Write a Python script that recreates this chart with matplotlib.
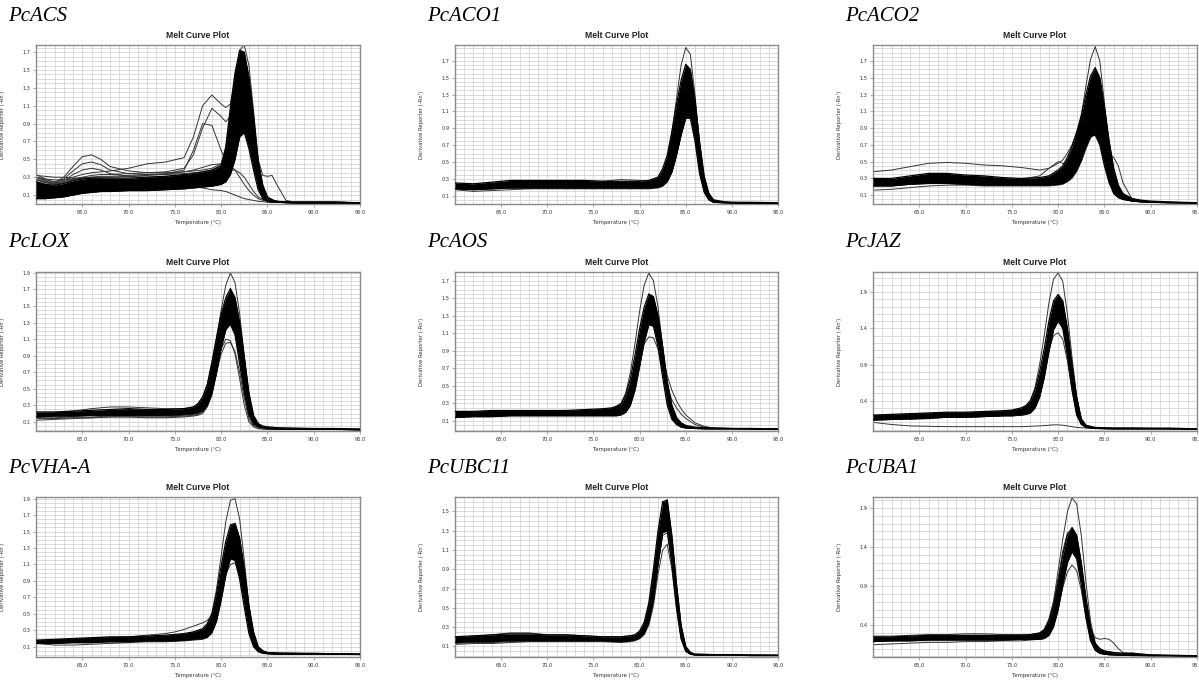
import matplotlib
matplotlib.use("Agg")
import matplotlib.pyplot as plt
import numpy as np

# ---------------- data ----------------
GENES = ["PcACS", "PcACO1", "PcACO2", "PcLOX", "PcAOS", "PcJAZ",
         "PcVHA-A", "PcUBC11", "PcUBA1"]
X_TICKS = [65, 70, 75, 80, 85, 90, 95]

# PcACS
ACS_T = [60, 61, 62, 63, 64, 65, 66, 67, 68, 70, 72, 74, 76, 77, 78, 79, 80,
         80.5, 81, 81.5, 82, 82.5, 83, 83.5, 84, 84.5, 85, 85.5, 86, 87, 88, 90, 92, 95]
ACS_HI = [0.25, 0.22, 0.21, 0.23, 0.26, 0.28, 0.29, 0.29, 0.29, 0.29, 0.3, 0.31, 0.33,
          0.34, 0.36, 0.38, 0.43,
          0.64, 1.08, 1.47, 1.72, 1.7, 1.42, 0.98, 0.48, 0.21, 0.08, 0.05, 0.03,
          0.025, 0.02, 0.02, 0.02, 0.015]
ACS_LO = [0.06, 0.06, 0.07, 0.08, 0.1, 0.12, 0.13, 0.14, 0.14, 0.15, 0.15, 0.16, 0.17,
          0.18, 0.19, 0.2, 0.22,
          0.25, 0.33, 0.5, 0.75, 0.8, 0.62, 0.38, 0.16, 0.06, 0.03, 0.02, 0.02,
          0.015, 0.01, 0.01, 0.01, 0.01]
ACS_LINES = [
    [0.33, 0.28, 0.24, 0.3, 0.42, 0.53, 0.55, 0.5, 0.42, 0.37, 0.35, 0.35, 0.36, 0.37, 0.38, 0.4, 0.45,
     0.62, 1.0, 1.42, 1.68, 1.65, 1.35, 0.9, 0.42, 0.17, 0.07, 0.04, 0.03, 0.02, 0.02, 0.02, 0.02, 0.015],
    [0.3, 0.26, 0.23, 0.28, 0.37, 0.45, 0.47, 0.44, 0.38, 0.34, 0.33, 0.33, 0.34, 0.35, 0.36, 0.38, 0.43,
     0.6, 0.98, 1.4, 1.65, 1.62, 1.32, 0.88, 0.4, 0.16, 0.06, 0.04, 0.03, 0.02, 0.02, 0.02, 0.02, 0.015],
    [0.28, 0.24, 0.22, 0.26, 0.33, 0.38, 0.4, 0.38, 0.34, 0.31, 0.3, 0.31, 0.32, 0.33, 0.34, 0.36, 0.4,
     0.58, 0.95, 1.38, 1.62, 1.6, 1.3, 0.85, 0.38, 0.15, 0.06, 0.04, 0.03, 0.02, 0.02, 0.02, 0.02, 0.015],
    [0.3, 0.27, 0.25, 0.27, 0.3, 0.33, 0.35, 0.36, 0.37, 0.4, 0.45, 0.47, 0.52, 0.75, 1.1, 1.22, 1.12,
     1.08, 1.12, 1.38, 1.6, 1.58, 1.28, 0.85, 0.4, 0.15, 0.06, 0.04, 0.03, 0.02, 0.02, 0.02, 0.02, 0.015],
    [0.28, 0.25, 0.23, 0.25, 0.28, 0.3, 0.32, 0.33, 0.33, 0.34, 0.35, 0.36, 0.4, 0.55, 0.85, 1.07, 0.98,
     0.92, 0.98, 1.3, 1.55, 1.52, 1.25, 0.82, 0.38, 0.15, 0.06, 0.04, 0.03, 0.02, 0.02, 0.02, 0.02, 0.015],
    [0.27, 0.24, 0.22, 0.24, 0.27, 0.29, 0.3, 0.31, 0.31, 0.32, 0.33, 0.34, 0.38, 0.6, 0.9, 0.88, 0.6,
     0.48, 0.6, 1.0, 1.3, 1.35, 1.1, 0.7, 0.32, 0.12, 0.05, 0.03, 0.02, 0.02, 0.02, 0.02, 0.02, 0.015],
    [0.3, 0.28, 0.27, 0.27, 0.28, 0.29, 0.3, 0.3, 0.3, 0.31, 0.32, 0.33, 0.36, 0.38, 0.41, 0.44, 0.45,
     0.45, 0.43, 0.38, 0.3, 0.22, 0.15, 0.1, 0.06, 0.04, 0.03, 0.02, 0.02, 0.015, 0.015, 0.015, 0.015, 0.015],
    [0.25, 0.22, 0.2, 0.2, 0.21, 0.22, 0.22, 0.23, 0.23, 0.24, 0.25, 0.26, 0.28, 0.3, 0.32, 0.34, 0.35,
     0.37, 0.38, 0.38, 0.35, 0.3, 0.22, 0.14, 0.08, 0.05, 0.03, 0.02, 0.02, 0.015, 0.015, 0.015, 0.015, 0.015],
    [0.32, 0.31, 0.3, 0.3, 0.29, 0.29, 0.28, 0.28, 0.27, 0.26, 0.24, 0.22, 0.2, 0.19, 0.18, 0.16, 0.15,
     0.14, 0.12, 0.1, 0.08, 0.06, 0.05, 0.04, 0.03, 0.025, 0.02, 0.02, 0.02, 0.015, 0.015, 0.015, 0.015, 0.015],
    [0.12, 0.11, 0.12, 0.13, 0.15, 0.17, 0.18, 0.19, 0.19, 0.2, 0.21, 0.22, 0.24, 0.25, 0.27, 0.29, 0.33,
     0.5, 0.9, 1.3, 1.55, 1.55, 1.3, 0.9, 0.5, 0.32, 0.31, 0.32, 0.22, 0.04, 0.02, 0.02, 0.02, 0.015],
    [0.2, 0.18, 0.18, 0.19, 0.21, 0.23, 0.24, 0.24, 0.24, 0.25, 0.26, 0.27, 0.29, 0.3, 0.32, 0.34, 0.38,
     0.55, 0.95, 1.4, 1.72, 1.78, 1.55, 1.05, 0.5, 0.2, 0.08, 0.04, 0.03, 0.02, 0.02, 0.02, 0.02, 0.015],
]

# PcACO1
ACO1_T = [60, 62, 64, 66, 68, 70, 72, 74, 76, 78, 80, 81, 82, 82.5, 83, 83.5, 84, 84.5,
          85, 85.5, 86, 86.5, 87, 87.5, 88, 89, 90, 92, 95]
ACO1_HI = [0.25, 0.24, 0.26, 0.28, 0.28, 0.28, 0.28, 0.28, 0.27, 0.27, 0.27, 0.28, 0.32,
           0.42, 0.58, 0.86, 1.18, 1.47, 1.66, 1.6, 1.24, 0.74, 0.33, 0.13, 0.05,
           0.03, 0.02, 0.02, 0.015]
ACO1_LO = [0.18, 0.17, 0.18, 0.19, 0.19, 0.19, 0.19, 0.19, 0.19, 0.19, 0.19, 0.19, 0.2,
           0.22, 0.27, 0.38, 0.58, 0.82, 1.02, 1.02, 0.75, 0.36, 0.14, 0.05, 0.02,
           0.015, 0.01, 0.01, 0.005]
ACO1_LINES = [
    [0.22, 0.21, 0.23, 0.24, 0.24, 0.24, 0.24, 0.24, 0.23, 0.23, 0.23, 0.24, 0.27,
     0.35, 0.52, 0.85, 1.25, 1.65, 1.86, 1.78, 1.3, 0.72, 0.28, 0.1, 0.04, 0.02, 0.02, 0.015, 0.01],
    [0.17, 0.15, 0.16, 0.17, 0.18, 0.18, 0.18, 0.18, 0.18, 0.18, 0.18, 0.18, 0.19,
     0.21, 0.26, 0.38, 0.58, 0.85, 1.08, 1.1, 0.8, 0.4, 0.15, 0.05, 0.02, 0.015, 0.01, 0.01, 0.005],
    [0.22, 0.22, 0.24, 0.26, 0.26, 0.27, 0.28, 0.27, 0.27, 0.29, 0.28, 0.27, 0.3,
     0.38, 0.52, 0.78, 1.1, 1.38, 1.55, 1.5, 1.1, 0.62, 0.26, 0.1, 0.04, 0.02, 0.02, 0.015, 0.01],
]

# PcACO2
ACO2_T = [60, 62, 64, 66, 68, 70, 72, 74, 76, 78, 79, 80, 80.5, 81, 81.5, 82, 82.5, 83,
          83.5, 84, 84.5, 85, 85.5, 86, 86.5, 87, 88, 89, 90, 92, 95]
ACO2_HI = [0.3, 0.3, 0.33, 0.36, 0.36, 0.34, 0.33, 0.31, 0.3, 0.31, 0.33, 0.4,
           0.45, 0.55, 0.68, 0.85, 1.05, 1.3, 1.52, 1.62, 1.5, 1.15, 0.75, 0.42, 0.22, 0.12,
           0.06, 0.04, 0.03, 0.02, 0.01]
ACO2_LO = [0.21, 0.21, 0.23, 0.24, 0.24, 0.23, 0.22, 0.22, 0.22, 0.22, 0.22, 0.23,
           0.24, 0.27, 0.32, 0.4, 0.52, 0.68, 0.8, 0.82, 0.7, 0.45, 0.25, 0.12, 0.07, 0.05,
           0.03, 0.02, 0.015, 0.01, 0.005]
ACO2_LINES = [
    [0.28, 0.28, 0.3, 0.32, 0.32, 0.31, 0.3, 0.29, 0.28, 0.29, 0.31, 0.36,
     0.4, 0.48, 0.6, 0.8, 1.05, 1.4, 1.72, 1.87, 1.7, 1.2, 0.7, 0.35, 0.15, 0.08, 0.04, 0.03, 0.02, 0.015, 0.01],
    [0.38, 0.4, 0.44, 0.48, 0.49, 0.48, 0.46, 0.45, 0.43, 0.4, 0.42, 0.48,
     0.52, 0.6, 0.7, 0.85, 1.0, 1.2, 1.4, 1.5, 1.4, 1.05, 0.65, 0.35, 0.18, 0.1, 0.05, 0.03, 0.02, 0.015, 0.01],
    [0.27, 0.27, 0.3, 0.33, 0.33, 0.31, 0.3, 0.29, 0.29, 0.33, 0.42, 0.5,
     0.48, 0.45, 0.5, 0.62, 0.8, 1.0, 1.15, 1.2, 1.1, 0.8, 0.45, 0.2, 0.1, 0.06, 0.03, 0.02, 0.015, 0.01, 0.005],
    [0.25, 0.25, 0.27, 0.29, 0.3, 0.29, 0.28, 0.27, 0.26, 0.27, 0.28, 0.32,
     0.36, 0.45, 0.56, 0.72, 0.9, 1.1, 1.25, 1.3, 1.15, 0.85, 0.6, 0.55, 0.45, 0.25, 0.05, 0.03, 0.02, 0.015, 0.01],
    [0.16, 0.17, 0.19, 0.21, 0.22, 0.22, 0.21, 0.21, 0.21, 0.21, 0.21, 0.22,
     0.23, 0.26, 0.3, 0.38, 0.5, 0.65, 0.78, 0.85, 0.75, 0.5, 0.28, 0.14, 0.08, 0.05, 0.03, 0.02, 0.015, 0.01, 0.005],
]

# PcLOX
LOX_T = [60, 62, 64, 66, 68, 70, 72, 74, 76, 77, 77.5, 78, 78.5, 79, 79.5, 80, 80.5, 81,
         81.5, 82, 82.5, 83, 83.5, 84, 84.5, 85, 86, 88, 90, 92, 95]
LOX_HI = [0.22, 0.22, 0.23, 0.24, 0.25, 0.26, 0.25, 0.25, 0.26, 0.28,
          0.32, 0.4, 0.55, 0.82, 1.12, 1.4, 1.6, 1.71, 1.6, 1.3, 0.88, 0.45, 0.18, 0.08, 0.05, 0.04,
          0.03, 0.025, 0.02, 0.02, 0.015]
LOX_LO = [0.16, 0.17, 0.17, 0.18, 0.18, 0.18, 0.18, 0.18, 0.19, 0.2,
          0.21, 0.23, 0.3, 0.45, 0.7, 1.0, 1.22, 1.28, 1.15, 0.8, 0.45, 0.18, 0.07, 0.04, 0.03, 0.02,
          0.015, 0.01, 0.01, 0.01, 0.005]
LOX_LINES = [
    [0.2, 0.2, 0.21, 0.22, 0.23, 0.24, 0.23, 0.23, 0.24, 0.26,
     0.3, 0.36, 0.5, 0.78, 1.1, 1.45, 1.75, 1.9, 1.78, 1.4, 0.9, 0.42, 0.15, 0.06, 0.04, 0.03, 0.02, 0.02, 0.015, 0.015, 0.01],
    [0.15, 0.15, 0.16, 0.16, 0.17, 0.17, 0.17, 0.17, 0.18, 0.19,
     0.2, 0.24, 0.33, 0.5, 0.75, 0.98, 1.1, 1.08, 0.92, 0.62, 0.3, 0.1, 0.04, 0.02, 0.015, 0.01, 0.01, 0.01, 0.01, 0.01, 0.005],
    [0.14, 0.14, 0.15, 0.15, 0.16, 0.16, 0.16, 0.16, 0.17, 0.18,
     0.19, 0.22, 0.3, 0.45, 0.7, 0.92, 1.05, 1.06, 0.95, 0.7, 0.38, 0.14, 0.05, 0.02, 0.015, 0.01, 0.01, 0.01, 0.01, 0.01, 0.005],
    [0.12, 0.13, 0.14, 0.15, 0.16, 0.16, 0.15, 0.15, 0.16, 0.17,
     0.18, 0.2, 0.28, 0.42, 0.68, 0.98, 1.2, 1.3, 1.2, 0.88, 0.5, 0.2, 0.08, 0.04, 0.03, 0.02, 0.015, 0.01, 0.01, 0.01, 0.005],
    [0.2, 0.21, 0.23, 0.26, 0.28, 0.28, 0.27, 0.26, 0.26, 0.28,
     0.32, 0.4, 0.55, 0.8, 1.1, 1.38, 1.55, 1.6, 1.5, 1.2, 0.8, 0.4, 0.15, 0.07, 0.04, 0.03, 0.02, 0.02, 0.02, 0.015, 0.01],
]

# PcAOS
AOS_T = [60, 62, 64, 66, 68, 70, 72, 74, 76, 77, 77.5, 78, 78.5, 79, 79.5, 80, 80.5, 81,
         81.5, 82, 82.5, 83, 83.5, 84, 84.5, 85, 86, 87, 88, 90, 92, 95]
AOS_HI = [0.21, 0.21, 0.22, 0.22, 0.22, 0.22, 0.22, 0.23, 0.24, 0.25,
          0.27, 0.3, 0.4, 0.58, 0.85, 1.15, 1.4, 1.55, 1.52, 1.3, 0.95, 0.55, 0.28, 0.14, 0.08, 0.05,
          0.03, 0.025, 0.02, 0.015, 0.015, 0.01]
AOS_LO = [0.14, 0.15, 0.15, 0.16, 0.16, 0.16, 0.16, 0.16, 0.16, 0.16,
          0.16, 0.17, 0.2, 0.28, 0.45, 0.72, 1.0, 1.2, 1.18, 0.95, 0.6, 0.28, 0.12, 0.06, 0.03, 0.02,
          0.015, 0.01, 0.01, 0.01, 0.01, 0.005]
AOS_LINES = [
    [0.2, 0.2, 0.21, 0.21, 0.21, 0.21, 0.21, 0.22, 0.23, 0.24,
     0.26, 0.3, 0.42, 0.65, 0.98, 1.35, 1.65, 1.79, 1.7, 1.4, 0.95, 0.5, 0.22, 0.1, 0.05, 0.03, 0.02, 0.02, 0.015, 0.015, 0.01, 0.01],
    [0.15, 0.16, 0.16, 0.17, 0.17, 0.17, 0.17, 0.17, 0.17, 0.17,
     0.18, 0.2, 0.26, 0.4, 0.6, 0.82, 0.98, 1.06, 1.05, 0.92, 0.68, 0.4, 0.2, 0.1, 0.05, 0.03, 0.02, 0.015, 0.01, 0.01, 0.01, 0.005],
    [0.18, 0.19, 0.19, 0.2, 0.2, 0.2, 0.2, 0.2, 0.2, 0.21,
     0.22, 0.25, 0.32, 0.48, 0.72, 1.0, 1.22, 1.32, 1.28, 1.1, 0.85, 0.62, 0.45, 0.33, 0.24, 0.17, 0.08, 0.04, 0.02, 0.015, 0.01, 0.01],
    [0.19, 0.2, 0.2, 0.21, 0.21, 0.21, 0.21, 0.21, 0.21, 0.21,
     0.21, 0.24, 0.3, 0.45, 0.7, 0.98, 1.25, 1.4, 1.35, 1.12, 0.8, 0.5, 0.34, 0.25, 0.18, 0.13, 0.06, 0.03, 0.02, 0.015, 0.01, 0.01],
]

# PcJAZ
JAZ_T = [60, 62, 64, 66, 68, 70, 72, 74, 75, 76, 76.5, 77, 77.5, 78, 78.5, 79, 79.5, 80,
         80.5, 81, 81.5, 82, 82.5, 83, 84, 86, 88, 90, 92, 95]
JAZ_HI = [0.2, 0.21, 0.22, 0.23, 0.24, 0.24, 0.25, 0.26, 0.27,
          0.3, 0.33, 0.4, 0.55, 0.8, 1.12, 1.5, 1.78, 1.87, 1.78, 1.4, 0.9, 0.45, 0.15, 0.06,
          0.03, 0.02, 0.02, 0.02, 0.02, 0.01]
JAZ_LO = [0.13, 0.14, 0.15, 0.16, 0.17, 0.17, 0.18, 0.19, 0.19,
          0.2, 0.21, 0.23, 0.3, 0.45, 0.72, 1.08, 1.38, 1.5, 1.4, 1.02, 0.55, 0.2, 0.07, 0.03,
          0.015, 0.01, 0.01, 0.01, 0.01, 0.005]
JAZ_LINES = [
    [0.19, 0.2, 0.21, 0.22, 0.23, 0.23, 0.24, 0.25, 0.26,
     0.28, 0.32, 0.4, 0.58, 0.9, 1.3, 1.75, 2.08, 2.17, 2.05, 1.6, 1.0, 0.45, 0.14, 0.05, 0.02, 0.02, 0.02, 0.015, 0.015, 0.01],
    [0.17, 0.18, 0.19, 0.2, 0.21, 0.21, 0.22, 0.23, 0.23,
     0.25, 0.27, 0.32, 0.42, 0.6, 0.85, 1.1, 1.3, 1.34, 1.25, 0.95, 0.55, 0.22, 0.08, 0.03, 0.015, 0.01, 0.01, 0.01, 0.01, 0.005],
    [0.1, 0.07, 0.05, 0.045, 0.04, 0.04, 0.04, 0.04, 0.04,
     0.04, 0.042, 0.045, 0.048, 0.05, 0.055, 0.06, 0.065, 0.065, 0.06, 0.05, 0.04, 0.03, 0.025, 0.02, 0.02, 0.02, 0.02, 0.015, 0.01, 0.01],
    [0.16, 0.15, 0.14, 0.15, 0.17, 0.17, 0.18, 0.19, 0.2,
     0.22, 0.24, 0.28, 0.38, 0.6, 0.92, 1.25, 1.5, 1.55, 1.42, 1.05, 0.6, 0.22, 0.08, 0.03, 0.015, 0.01, 0.01, 0.01, 0.01, 0.005],
]

# PcVHA-A
VHA_T = [60, 62, 64, 66, 68, 70, 72, 74, 75, 76, 77, 78, 78.5, 79, 79.5, 80, 80.5, 81,
         81.5, 82, 82.5, 83, 83.5, 84, 84.5, 85, 86, 88, 90, 92, 95]
VHA_HI = [0.18, 0.19, 0.2, 0.21, 0.22, 0.22, 0.23, 0.24, 0.25, 0.26, 0.28,
          0.32, 0.38, 0.5, 0.75, 1.08, 1.38, 1.58, 1.6, 1.42, 1.05, 0.6, 0.28, 0.1, 0.05, 0.03,
          0.025, 0.02, 0.02, 0.015, 0.012]
VHA_LO = [0.14, 0.14, 0.15, 0.15, 0.16, 0.16, 0.17, 0.17, 0.17, 0.18, 0.19,
          0.2, 0.22, 0.28, 0.42, 0.68, 0.98, 1.17, 1.15, 0.92, 0.58, 0.26, 0.1, 0.04, 0.02, 0.015,
          0.01, 0.01, 0.01, 0.01, 0.005]
VHA_LINES = [
    [0.17, 0.18, 0.19, 0.2, 0.21, 0.21, 0.22, 0.23, 0.24, 0.25, 0.27,
     0.3, 0.36, 0.5, 0.8, 1.2, 1.62, 1.88, 1.9, 1.65, 1.15, 0.6, 0.25, 0.08, 0.04, 0.03, 0.02, 0.02, 0.015, 0.015, 0.01],
    [0.17, 0.18, 0.19, 0.2, 0.21, 0.22, 0.24, 0.26, 0.28, 0.31, 0.35,
     0.39, 0.42, 0.48, 0.68, 0.98, 1.3, 1.5, 1.52, 1.35, 1.0, 0.58, 0.26, 0.1, 0.05, 0.03, 0.02, 0.02, 0.015, 0.015, 0.01],
    [0.15, 0.15, 0.16, 0.16, 0.17, 0.17, 0.18, 0.18, 0.18, 0.19, 0.2,
     0.21, 0.24, 0.32, 0.5, 0.75, 0.98, 1.1, 1.12, 0.98, 0.7, 0.38, 0.15, 0.05, 0.02, 0.015, 0.01, 0.01, 0.01, 0.01, 0.005],
    [0.14, 0.12, 0.12, 0.13, 0.14, 0.15, 0.16, 0.16, 0.17, 0.17, 0.18,
     0.19, 0.21, 0.26, 0.4, 0.65, 0.95, 1.2, 1.3, 1.15, 0.8, 0.42, 0.16, 0.06, 0.03, 0.02, 0.01, 0.01, 0.01, 0.01, 0.005],
]

# PcUBC11
UBC_T = [60, 62, 64, 66, 68, 70, 72, 74, 76, 78, 79, 79.5, 80, 80.5, 81, 81.5, 82, 82.5,
         83, 83.5, 84, 84.5, 85, 85.5, 86, 88, 90, 92, 95]
UBC_HI = [0.2, 0.21, 0.22, 0.23, 0.23, 0.22, 0.22, 0.21, 0.2, 0.2, 0.21,
          0.22, 0.26, 0.35, 0.55, 0.9, 1.3, 1.6, 1.62, 1.25, 0.75, 0.32, 0.1, 0.04, 0.02,
          0.015, 0.015, 0.012, 0.01]
UBC_LO = [0.14, 0.15, 0.15, 0.16, 0.16, 0.16, 0.16, 0.16, 0.16, 0.15, 0.16,
          0.17, 0.19, 0.24, 0.35, 0.58, 0.95, 1.28, 1.3, 0.95, 0.5, 0.18, 0.05, 0.02, 0.01,
          0.01, 0.01, 0.005, 0.005]
UBC_LINES = [
    [0.13, 0.14, 0.14, 0.15, 0.15, 0.15, 0.15, 0.15, 0.15, 0.14, 0.15,
     0.16, 0.18, 0.22, 0.32, 0.52, 0.85, 1.1, 1.16, 0.9, 0.5, 0.18, 0.05, 0.02, 0.01, 0.01, 0.01, 0.005, 0.005],
    [0.19, 0.2, 0.22, 0.24, 0.24, 0.22, 0.22, 0.21, 0.2, 0.2, 0.21,
     0.22, 0.25, 0.33, 0.52, 0.85, 1.22, 1.5, 1.52, 1.18, 0.7, 0.3, 0.09, 0.03, 0.02, 0.015, 0.015, 0.01, 0.01],
    [0.12, 0.13, 0.13, 0.14, 0.15, 0.15, 0.15, 0.15, 0.15, 0.15, 0.15,
     0.16, 0.18, 0.23, 0.34, 0.58, 0.95, 1.25, 1.28, 0.98, 0.55, 0.2, 0.06, 0.02, 0.01, 0.01, 0.01, 0.005, 0.005],
]

# PcUBA1
UBA_T = [60, 62, 64, 66, 68, 70, 72, 74, 76, 77, 78, 78.5, 79, 79.5, 80, 80.5, 81, 81.5,
         82, 82.5, 83, 83.5, 84, 84.5, 85, 85.5, 86, 86.5, 87, 88, 89, 90, 92, 95]
UBA_HI = [0.25, 0.25, 0.26, 0.27, 0.27, 0.27, 0.27, 0.27, 0.27, 0.28,
          0.3, 0.34, 0.45, 0.65, 0.95, 1.3, 1.55, 1.65, 1.55, 1.2, 0.75, 0.38, 0.17, 0.1, 0.07,
          0.06, 0.05, 0.045, 0.04, 0.04, 0.03, 0.02, 0.015, 0.01]
UBA_LO = [0.19, 0.2, 0.2, 0.21, 0.21, 0.21, 0.21, 0.21, 0.22, 0.22,
          0.22, 0.23, 0.27, 0.38, 0.6, 0.92, 1.2, 1.34, 1.25, 0.92, 0.5, 0.2, 0.08, 0.04, 0.03,
          0.025, 0.02, 0.018, 0.015, 0.015, 0.012, 0.01, 0.01, 0.005]
UBA_LINES = [
    [0.24, 0.24, 0.25, 0.26, 0.26, 0.26, 0.26, 0.26, 0.26, 0.27,
     0.29, 0.33, 0.45, 0.7, 1.1, 1.5, 1.85, 2.03, 1.95, 1.55, 0.95, 0.45, 0.17, 0.08, 0.05,
     0.04, 0.03, 0.03, 0.025, 0.02, 0.02, 0.015, 0.01, 0.01],
    [0.2, 0.2, 0.21, 0.22, 0.22, 0.22, 0.22, 0.22, 0.22, 0.23,
     0.23, 0.25, 0.3, 0.42, 0.62, 0.88, 1.08, 1.17, 1.1, 0.85, 0.5, 0.22, 0.1, 0.05, 0.03,
     0.02, 0.02, 0.015, 0.015, 0.01, 0.01, 0.01, 0.01, 0.005],
    [0.22, 0.22, 0.23, 0.24, 0.24, 0.24, 0.24, 0.25, 0.25, 0.26,
     0.28, 0.32, 0.42, 0.62, 0.9, 1.2, 1.4, 1.45, 1.35, 1.05, 0.65, 0.35, 0.24, 0.22, 0.23,
     0.22, 0.17, 0.1, 0.05, 0.03, 0.02, 0.015, 0.01, 0.01],
    [0.15, 0.16, 0.17, 0.18, 0.18, 0.19, 0.19, 0.2, 0.2, 0.21,
     0.22, 0.25, 0.32, 0.48, 0.75, 1.05, 1.3, 1.4, 1.3, 0.98, 0.55, 0.22, 0.08, 0.04, 0.03,
     0.02, 0.02, 0.015, 0.015, 0.01, 0.01, 0.01, 0.01, 0.005],
    [0.26, 0.26, 0.27, 0.28, 0.28, 0.29, 0.29, 0.28, 0.28, 0.28,
     0.3, 0.35, 0.48, 0.7, 1.0, 1.35, 1.58, 1.62, 1.5, 1.15, 0.7, 0.35, 0.16, 0.1, 0.07,
     0.06, 0.05, 0.045, 0.04, 0.045, 0.03, 0.02, 0.015, 0.01],
]

TICKS_A = [0.1, 0.3, 0.5, 0.7, 0.9, 1.1, 1.3, 1.5, 1.7]
TICKS_B = [0.1, 0.3, 0.5, 0.7, 0.9, 1.1, 1.3, 1.5, 1.7, 1.9]
TICKS_C = [0.1, 0.3, 0.5, 0.7, 0.9, 1.1, 1.3, 1.5]
TICKS_D = [0.4, 0.9, 1.4, 1.9]

PANELS = [
    (ACS_T, ACS_LO, ACS_HI, ACS_LINES, (0.0, 1.78), TICKS_A, 0.05),
    (ACO1_T, ACO1_LO, ACO1_HI, ACO1_LINES, (0.0, 1.89), TICKS_A, 0.05),
    (ACO2_T, ACO2_LO, ACO2_HI, ACO2_LINES, (-0.005, 1.89), TICKS_A, 0.05),
    (LOX_T, LOX_LO, LOX_HI, LOX_LINES, (-0.01, 1.91), TICKS_B, 0.05),
    (AOS_T, AOS_LO, AOS_HI, AOS_LINES, (-0.014, 1.8), TICKS_A, 0.05),
    (JAZ_T, JAZ_LO, JAZ_HI, JAZ_LINES, (-0.02, 2.18), TICKS_D, 0.1),
    (VHA_T, VHA_LO, VHA_HI, VHA_LINES, (-0.025, 1.92), TICKS_B, 0.05),
    (UBC_T, UBC_LO, UBC_HI, UBC_LINES, (-0.01, 1.65), TICKS_C, 0.05),
    (UBA_T, UBA_LO, UBA_HI, UBA_LINES, (-0.007, 2.04), TICKS_D, 0.1),
]

# ---------------- layout ----------------
W, H = 1199, 680
fig = plt.figure(figsize=(W / 100, H / 100), dpi=100)
fig.patch.set_facecolor("white")

COL_LEFT = [36, 455, 873]
COL_W = [324, 323, 324]
ROW_TOP = [45, 272, 497]
ROW_H = [159, 159, 160]
LABEL_X = [8, 427, 845]
LABEL_BASE = [21, 247, 473]

GRID_C = "#d6d6d6"
FRAME_C = "#8c8c8c"
TXT_C = "#333333"

for i, (T, lo, hi, lines, ylim, yt, ystep) in enumerate(PANELS):
    r, c = divmod(i, 3)
    l = COL_LEFT[c] / W
    b = 1 - (ROW_TOP[r] + ROW_H[r]) / H
    ax = fig.add_axes([l, b, COL_W[c] / W, ROW_H[r] / H])
    ax.set_xlim(60, 95)
    ax.set_ylim(*ylim)
    ax.set_xticks(X_TICKS)
    ax.set_xticklabels([f"{v:.1f}" for v in X_TICKS])
    ax.set_xticks(np.arange(60, 96, 1), minor=True)
    ax.set_yticks(yt)
    ax.set_yticklabels([f"{v:.1f}" for v in yt])
    ax.set_yticks(np.arange(0, ylim[1], ystep), minor=True)
    ax.grid(True, which="both", color=GRID_C, lw=0.6, zorder=0)
    ax.set_axisbelow(True)
    ax.tick_params(which="minor", length=0)
    ax.tick_params(which="major", length=2, width=0.5, color=FRAME_C,
                   labelsize=3.6, labelcolor=TXT_C, pad=2)
    for s in ax.spines.values():
        s.set_color(FRAME_C)
        s.set_linewidth(1.0)

    Ta = np.array(T)
    for ln in lines:
        ax.plot(Ta, ln, color="#333333", lw=0.7, zorder=2)
    ax.fill_between(Ta, lo, hi, color="black", lw=0, zorder=3)
    ax.plot(Ta, hi, color="black", lw=0.9, zorder=3)
    ax.plot(Ta, lo, color="black", lw=0.9, zorder=3)

    ax.text(0.5, 1 + 7 / ROW_H[r], "Melt Curve Plot", transform=ax.transAxes,
            ha="center", va="baseline", fontsize=6.2, fontweight="bold",
            family="Liberation Sans", color="#222222")
    ax.set_xlabel("Temperature (°C)", fontsize=3.8, color=TXT_C)
    ax.xaxis.set_label_coords(0.5, -18 / ROW_H[r])
    ax.xaxis.label.set_va("center")
    ax.set_ylabel("Derivative Reporter (-Rn')", fontsize=3.8, color=TXT_C)
    ax.yaxis.set_label_coords(-0.095, 0.5)

    fig.text(LABEL_X[c] / W, 1 - LABEL_BASE[r] / H, GENES[i], ha="left",
             va="baseline", fontsize=15, fontstyle="italic",
             family="Liberation Serif", color="black")

fig.savefig("out.png", dpi=100, facecolor="white")
